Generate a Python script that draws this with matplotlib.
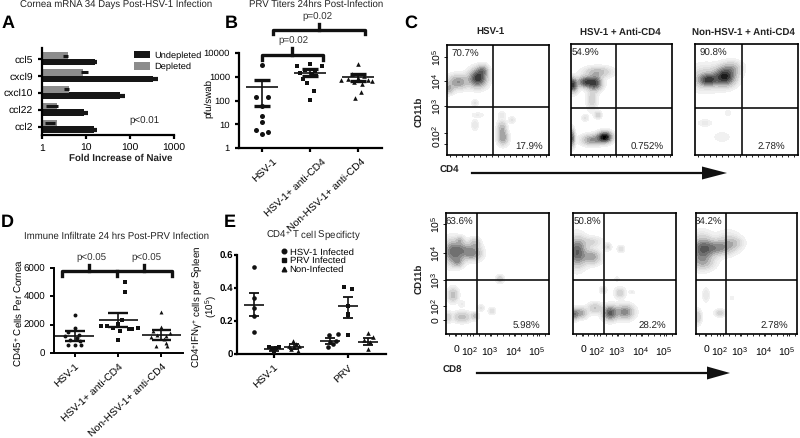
# Multi panel figure: cornea mRNA, PRV titers, flow plots, infiltrate, CD4 specificity

import matplotlib
matplotlib.use('Agg')
import matplotlib.pyplot as plt
import numpy as np
from matplotlib.patches import Patch, Polygon
from matplotlib.lines import Line2D
from matplotlib.transforms import ScaledTranslation

plt.rcParams['font.family'] = 'Liberation Sans'
plt.rcParams['mathtext.default'] = 'regular'
plt.rcParams['text.hinting'] = 'none'

W, H = 800, 438

# A
genes = ['ccl5', 'cxcl9', 'cxcl10', 'ccl22', 'ccl2']
undepleted = [15, 330, 58, 8, 14]
undepleted_err = [18, 430, 78, 11, 18]
depleted = [3, 7.5, 3.2, 1.25, 1.15]
depleted_err = [4, 11, 4.2, 2.3, 2]

# B
b_labels = ['HSV-1', 'HSV-1+ anti-CD4', 'Non-HSV-1+ anti-CD4']
b_hsv = [3000, 140, 140, 60, 22, 12, 5.5, 4.8, 4]
b_hsv_x = [0, -0.12, 0.12, 0, 0, 0, -0.12, 0.12, 0]
b_cd4 = [3600, 2900, 2800, 1900, 1700, 1500, 1300, 1100, 800, 520, 260, 110]
b_cd4_x = [0, -0.28, 0.24, -0.1, 0.1, -0.2, 0.04, 0.12, -0.14, -0.06, 0.08, 0]
b_non = [3500, 1300, 1100, 900, 800, 750, 700, 650, 600, 500, 230, 130]
b_non_x = [0, -0.12, 0.12, 0, -0.2, 0.2, -0.36, 0.3, -0.08, 0.08, 0.07, -0.07]
b_mean = [360, 1500, 930]
b_low = [60, 1100, 650]
b_high = [700, 2100, 1300]
b_label_shift = [11, 11, 3]

# D
d_hsv = [2700, 1760, 1500, 1300, 1200, 1060, 940, 820, 590, 590, 590]
d_hsv_x = [0, 0, -0.15, 0.1, -0.22, 0.05, -0.1, 0.12, -0.15, 0, 0.15]
d_cd4 = [4990, 4280, 2300, 2050, 1880, 1880, 1800, 1800, 1700, 1700, 1550, 890]
d_cd4_x = [0.15, 0.15, 0.1, 0, -0.4, -0.25, -0.12, 0.45, 0.25, 0.33, 0.05, 0]
d_non = [2870, 1830, 1550, 1400, 1300, 1200, 1100, 1000, 700, 470, 470]
d_non_x = [0, 0, -0.2, 0.2, -0.1, 0.1, -0.25, 0.05, 0.1, -0.12, 0.12]
d_mean = [1200, 2300, 1300]
d_low = [850, 1850, 950]
d_high = [1550, 2800, 1650]

# E
e_labels = ['HSV-1', 'PRV']
e_hsv_circle = [0.525, 0.34, 0.28, 0.23, 0.135]
e_hsv_circle_x = [0, 0, 0, 0, 0]
e_hsv_square = [0.04, 0.04, 0.035, 0.03, 0.03, 0.02, 0.01]
e_hsv_square_x = [-0.25, 0.25, 0.1, -0.12, 0.05, 0, 0]
e_hsv_tri = [0.08, 0.06, 0.05, 0.05, 0.04, 0.03, 0.02]
e_hsv_tri_x = [-0.05, 0.1, -0.25, 0.25, 0, -0.15, 0.2]
e_prv_circle = [0.12, 0.115, 0.08, 0.07, 0.06, 0.04]
e_prv_circle_x = [0.4, -0.05, 0.3, 0.0, 0.15, -0.1]
e_prv_square = [0.405, 0.395, 0.29, 0.245, 0.235, 0.115]
e_prv_square_x = [-0.2, 0.2, 0, 0, 0, 0]
e_prv_tri = [0.125, 0.105, 0.085, 0.07, 0.03]
e_prv_tri_x = [0, 0.25, -0.2, 0.1, 0]
e_mean = [0.30, 0.03, 0.045, 0.08, 0.29, 0.075]
e_low = [0.23, 0.02, 0.03, 0.06, 0.22, 0.055]
e_high = [0.37, 0.04, 0.06, 0.095, 0.345, 0.095]

top_boxes = [(447, 45, 549, 155, 493, 107), (571, 44, 672, 155, 616, 108), (695, 44, 798, 155, 742, 108)]
bot_boxes = [(446, 213, 549, 334, 477, 280), (573, 213, 676, 334, 604, 280), (696, 213, 797, 334, 726, 280)]
top_titles = ['HSV-1', 'HSV-1 + Anti-CD4', 'Non-HSV-1 + Anti-CD4']
top_gates_text = [('70.7%', '17.9%'), ('54.9%', '0.752%'), ('90.8%', '2.78%')]
bot_gates_text = [('63.6%', '5.98%'), ('50.8%', '28.2%'), ('84.2%', '2.78%')]

top_blobs = [
    [(478, 78, 5, 5, 0.85), (458, 82, 6, 4, 0.5), (448, 89, 3, 3, 0.35), (483, 70, 3, 3, 0.35),
     (503, 138, 3, 4, 0.45), (502, 128, 2.5, 4, 0.35), (475, 125, 2, 3, 0.15), (512, 120, 2, 2, 0.15),
     (502, 115, 2, 2, 0.12), (478, 115, 4, 1.5, 0.1), (475, 103, 2, 2, 0.15)],
    [(595, 83, 4, 4, 0.75), (585, 82, 4, 3, 0.7), (572, 85, 3, 4, 0.85), (598, 72, 8, 3, 0.35),
     (592, 100, 3, 6, 0.25), (605, 137, 4, 3, 0.95), (592, 140, 6, 3, 0.5), (572, 138, 1.5, 5, 0.6),
     (598, 115, 2, 2, 0.25), (585, 118, 2, 2, 0.15)],
    [(725, 77, 6, 5, 0.85), (708, 80, 5, 3, 0.55), (705, 78, 9, 7, 0.3), (732, 68, 6, 4, 0.3),
     (705, 123, 4, 2, 0.12), (722, 137, 5, 3, 0.1), (728, 113, 2, 2, 0.1)],
]
bot_blobs = [
    [(452, 252, 5, 7, 0.55), (462, 250, 5, 5, 0.4), (473, 253, 5, 4, 0.5), (475, 243, 3, 3, 0.3),
     (460, 240, 2, 2, 0.2), (458, 262, 3, 3, 0.3), (453, 295, 3, 4, 0.35), (462, 317, 5, 3, 0.35),
     (448, 317, 2, 3, 0.25), (475, 316, 2, 2, 0.3), (500, 279, 2, 2, 0.3), (492, 311, 2, 2, 0.2),
     (481, 308, 2, 2, 0.15), (462, 304, 2, 2, 0.1)],
    [(577, 252, 5, 8, 0.7), (592, 257, 5, 4, 0.45), (592, 242, 6, 3, 0.2), (608, 247, 2, 2, 0.2),
     (621, 249, 2, 2, 0.2), (610, 313, 4, 4, 0.7), (625, 312, 5, 4, 0.55), (580, 313, 4, 3, 0.45),
     (595, 308, 4, 3, 0.3), (574, 315, 2, 3, 0.4), (620, 293, 3, 3, 0.25), (603, 290, 2, 2, 0.2),
     (632, 292, 2, 1, 0.1), (617, 279, 1.5, 1.5, 0.1)],
    [(702, 250, 6, 8, 0.6), (717, 248, 8, 4, 0.45), (728, 242, 7, 6, 0.22), (735, 243, 5, 3, 0.15),
     (703, 263, 7, 4, 0.2), (706, 295, 2, 4, 0.15), (720, 313, 3, 2, 0.25), (698, 317, 2, 4, 0.3),
     (732, 298, 1.5, 1.5, 0.08)],
]

# where the percentage labels sit inside each flow panel
top_tl = [0.18, 0.14, 0.18]
top_br = [0.2, 0.25, 0.26]
bot_tl = [0.13, 0.14, 0.12]
bot_br = [0.22, 0.23, 0.22]
blob_grow = 1.2


def px_axes(l, t, r, b):
    return fig.add_axes([l / W, 1 - b / H, (r - l) / W, (b - t) / H])


def clean(ax, lw=1.5):
    ax.spines['top'].set_visible(False)
    ax.spines['right'].set_visible(False)
    ax.spines['left'].set_linewidth(lw)
    ax.spines['bottom'].set_linewidth(lw)
    ax.tick_params(width=lw, length=3)


def dots(ax, x, y, marker, s=9):
    ax.scatter(x, y, c='#111111', s=s, marker=marker, linewidths=0, zorder=3)


def mean_bars(ax, xs, mean, low, high, half=0.33, cap=0.5, lw=1.3, caplw=1.9):
    for x, m, lo, hi in zip(xs, mean, low, high):
        ax.hlines(m, x - half, x + half, color='#111111', lw=lw, zorder=4)
        ax.vlines(x, lo, hi, color='#111111', lw=lw, zorder=4)
        ax.hlines([lo, hi], x - half * cap, x + half * cap, color='#111111', lw=caplw, zorder=4)


fig = plt.figure(figsize=(8, 4.38), dpi=100, facecolor='white')

# Panel A
ax = px_axes(42, 48, 174, 135)
clean(ax, 1.6)
ypos = np.arange(len(genes))[::-1]
ax.barh(ypos - 0.18, undepleted, height=0.4, left=1, color='#161616')
ax.barh(ypos + 0.2, depleted, height=0.38, left=1, color='#8c8c8c')
for y, v, e in zip(ypos - 0.18, undepleted, undepleted_err):
    ax.plot([v, e], [y, y], color='#161616', lw=3, solid_capstyle='butt')
for y, v, e in zip(ypos + 0.2, depleted, depleted_err):
    ax.plot([v, e], [y, y], color='#161616', lw=2.2, solid_capstyle='butt')
ax.set_xscale('log')
ax.set_xlim(1, 1000)
ax.set_ylim(-0.5, 4.65)
ax.set_yticks(ypos)
ax.set_yticklabels(genes, fontsize=7.5)
ax.set_xticks([1, 10, 100, 1000])
ax.set_xticklabels(['1', '10', '100', '1000'], fontsize=7.5)
ax.minorticks_off()
ax.text(208, 0.33, 'p<0.01', fontsize=7, ha='center', va='center', color='#222222')
ax.legend(handles=[Patch(fc='#161616', label='Undepleted'), Patch(fc='#8c8c8c', label='Depleted')],
          frameon=False, fontsize=6.7, handlelength=1.7, handleheight=0.9, handletextpad=0.4, labelspacing=0.25,
          loc='upper left', bbox_to_anchor=(0.70, 0.97), borderpad=0, borderaxespad=0)

# Panel B
ax = px_axes(239, 53, 382, 148)
clean(ax, 1.6)
ax.set_yscale('log')
ax.set_ylim(1, 10000)
ax.set_xlim(-0.48, 2.5)
dots(ax, b_hsv_x, b_hsv, 'o', 13)
dots(ax, np.array(b_cd4_x) + 1, b_cd4, 's', 11)
dots(ax, np.array(b_non_x) + 2, b_non, '^', 11)
mean_bars(ax, [0, 1, 2], b_mean, b_low, b_high, lw=1.2, caplw=2.4)
ax.set_yticks([1, 10, 100, 1000, 10000])
ax.set_yticklabels(['1', '10', '100', '1000', '10000'], fontsize=6.8)
ax.minorticks_off()
ax.set_xticks([0, 1, 2])
ax.set_xticklabels(b_labels, rotation=43, ha='right', rotation_mode='anchor', fontsize=7.5)
for lbl, dx in zip(ax.get_xticklabels(), b_label_shift):
    lbl.set_transform(lbl.get_transform() + ScaledTranslation(dx / 100, 0, fig.dpi_scale_trans))
ax.set_ylabel('pfu/swab', fontsize=7)
ax.yaxis.set_label_coords(-0.18, 0.516)

# Panel D
ax = px_axes(54, 268, 183, 353)
clean(ax, 1.4)
ax.set_ylim(0, 6000)
ax.set_xlim(-0.48, 2.5)
dots(ax, d_hsv_x, d_hsv, 'o', 8)
dots(ax, np.array(d_cd4_x) + 1, d_cd4, 's', 8)
dots(ax, np.array(d_non_x) + 2, d_non, '^', 8)
mean_bars(ax, [0, 1, 2], d_mean, d_low, d_high, half=0.45, lw=1.2, caplw=1.7)
ax.set_yticks([0, 2000, 4000, 6000])
ax.set_yticklabels(['0', '2000', '4000', '6000'], fontsize=7)
ax.set_xticks([0, 1, 2])
ax.set_xticklabels(b_labels, rotation=43, ha='right', rotation_mode='anchor', fontsize=7.5)
ax.set_ylabel('CD45$^{+}$ Cells Per Cornea', fontsize=7)
ax.yaxis.set_label_coords(-0.23, 0.47)

# Panel E
ax = px_axes(237, 255, 386, 354)
clean(ax, 1.6)
ax.set_ylim(0, 0.6)
ax.set_xlim(-0.85, 6.6)
groups = [(0, e_hsv_circle_x, e_hsv_circle, 'o'), (1, e_hsv_square_x, e_hsv_square, 's'),
          (2, e_hsv_tri_x, e_hsv_tri, '^'), (3.8, e_prv_circle_x, e_prv_circle, 'o'),
          (4.7, e_prv_square_x, e_prv_square, 's'), (5.7, e_prv_tri_x, e_prv_tri, '^')]
for x0, xo, vals, mk in groups:
    dots(ax, np.array(xo) + x0, vals, mk, 11)
mean_bars(ax, [g[0] for g in groups], e_mean, e_low, e_high, half=0.5, lw=1.2, caplw=1.3)
ax.set_yticks([0, 0.2, 0.4, 0.6])
ax.set_yticklabels(['0', '0.2', '0.4', '0.6'], fontsize=7, fontweight='bold')
ax.tick_params(axis='y', length=2, pad=1)
ax.set_xticks([1, 4.7])
ax.set_xticklabels(e_labels, rotation=43, ha='right', rotation_mode='anchor', fontsize=7.5)
ax.set_ylabel('CD4$^{+}$IFN$\\gamma^{+}$ cells per Spleen\n(10$^{5}$)', fontsize=7, linespacing=0.9)
ax.yaxis.set_label_coords(-0.13, 0.475)
mk = [Line2D([], [], ls='', marker=m, ms=3.3, color='#111111', label=t)
      for m, t in zip('os^', ['HSV-1 Infected', 'PRV Infected', 'Non-Infected'])]
ax.legend(handles=mk, frameon=False, fontsize=6.8, loc='upper left', bbox_to_anchor=(0.29, 1.07), borderpad=0,
          borderaxespad=0, handlelength=0.7, handletextpad=0.3, labelspacing=0.02)


# Panel C
def flow_panel(box, blobs, corner_text, tl, br, y_ticks=None, x_ticks=None):
    l, t, r, b, gx, gy = box
    ax = px_axes(l, t, r, b)
    xs, ys = np.meshgrid(np.arange(l, r, 0.5), np.arange(t, b, 0.5))
    z = np.zeros_like(xs, dtype=float)
    for x0, y0, sx, sy, amp in blobs:
        z += amp * np.exp(-((xs - x0) / (sx * blob_grow)) ** 2 / 2 - ((ys - y0) / (sy * blob_grow)) ** 2 / 2)
    ax.contourf(xs, ys, np.clip(z, 0, 1.3), levels=[0.05, 0.1, 0.15, 0.2, 0.3, 0.4, 0.5, 0.6, 0.7, 0.8, 0.9, 1.0, 1.3],
                cmap='Greys', vmin=-0.05, vmax=1.05)
    ax.set_xlim(l, r)
    ax.set_ylim(b, t)
    ax.axvline(gx, color='#111111', lw=1.2)
    ax.axhline(gy, color='#111111', lw=1.2)
    for s in ax.spines.values():
        s.set_linewidth(1.2)
    ax.set_xticks(np.arange(l + 3, r, 6))
    ax.set_xticklabels([])
    ax.set_yticks([])
    ax.tick_params(axis='x', length=1.5, width=0.6)
    if y_ticks:
        ax.set_yticks([t + d for d in y_ticks])
        ax.set_yticklabels(['$10^{5}$', '$10^{4}$', '$10^{3}$', '$10^{2}$', '0'], rotation=90, va='center', fontsize=7.5)
        ax.tick_params(axis='y', length=2, width=0.6, pad=1)
    if x_ticks:
        ax.set_xticks([l + d for d in x_ticks])
        ax.set_xticklabels(['0', '$10^{2}$', '$10^{3}$', '$10^{4}$', '$10^{5}$'], fontsize=7.5)
        ax.set_xticks(np.arange(l + 3, r, 6), minor=True)
        ax.tick_params(axis='x', which='both', length=1.5, width=0.6, pad=7)
    ax.text(l + tl * (r - l), t + 9, corner_text[0], fontsize=7, ha='center', va='center', color='#222222')
    ax.text(r - br * (r - l), b - 7.5, corner_text[1], fontsize=7, ha='center', va='center', color='#222222')


for i, box in enumerate(top_boxes):
    flow_panel(box, top_blobs[i], top_gates_text[i], top_tl[i], top_br[i],
               y_ticks=[12, 36, 61, 88, 99] if i == 0 else None)
for i, box in enumerate(bot_boxes):
    flow_panel(box, bot_blobs[i], bot_gates_text[i], bot_tl[i], bot_br[i],
               y_ticks=[11, 40, 67, 93, 107] if i == 0 else None, x_ticks=[10, 24, 44, 68, 91])

# overlay in picture pixels for titles, brackets, arrows
ov = fig.add_axes([0, 0, 1, 1], facecolor='none')
ov.set_xlim(0, W)
ov.set_ylim(H, 0)
ov.axis('off')

for s, x, y in [('A', 8, 23), ('B', 231, 23), ('C', 411, 23), ('D', 7, 222), ('E', 230, 222)]:
    ov.text(x, y, s, fontsize=13, fontweight='bold', ha='center', va='center')

for s, x, y in [('Cornea mRNA 34 Days Post-HSV-1 Infection', 116, 4), ('PRV Titers 24hrs Post-Infection', 316, 4),
                ('Immune Infiltrate 24 hrs Post-PRV Infection', 117, 236), ('CD4$^{+}$ T cell Specificty', 314, 235)]:
    ov.text(x, y, s, fontsize=6.9, ha='center', va='center', color='#222222')

ov.text(121, 158, 'Fold Increase of Naive', fontsize=7, fontweight='bold', ha='center', va='center', color='#222222')

for s, x, y in [('p=0.02', 293, 41), ('p=0.02', 317, 17), ('p<0.05', 91, 258), ('p<0.05', 146, 258)]:
    ov.text(x, y, s, fontsize=7, ha='center', va='center', color='#333333')

for x, y, s in zip([490, 620, 743], [32, 32, 32], top_titles):
    ov.text(x, y, s, fontsize=7, fontweight='bold', ha='center', va='center', color='#222222')


def bracket(x1, x2, ytop, yend, bumps_up=(), bumps_down=(), ypeak=None):
    ov.plot([x1, x1, x2, x2], [yend, ytop, ytop, yend], color='#111111', lw=2.4, solid_joinstyle='round')
    for x in bumps_up:
        ov.plot([x, x], [ytop, ypeak], color='#111111', lw=2.4)
    for x in bumps_down:
        ov.plot([x, x], [ytop, yend], color='#111111', lw=2.4)


bracket(262, 323, 55, 60, bumps_up=[292], ypeak=48)
bracket(273, 365, 30, 34, bumps_up=[319], ypeak=24)
bracket(62, 172, 271, 276, bumps_up=[89, 144], bumps_down=[117], ypeak=265)

for x1, x2, xh, y in [(472, 727, 702, 173), (477, 730, 707, 373)]:
    ov.plot([x1, xh], [y, y], color='#111111', lw=1.6)
    ov.add_patch(Polygon([[xh, y - 6.5], [x2, y], [xh, y + 6.5]], closed=True, fc='#111111', ec='none'))

for s, x, y in [('CD4', 449, 170), ('CD8', 452, 370)]:
    ov.text(x, y, s, fontsize=7, fontweight='bold', ha='center', va='center', color='#222222')
ov.text(419, 112, 'CD11b', fontsize=7, fontweight='bold', rotation=90, ha='center', va='center', color='#222222')
ov.text(419, 279, 'CD11b', fontsize=7, fontweight='bold', rotation=90, ha='center', va='center', color='#222222')

fig.savefig('out.png', dpi=100)
